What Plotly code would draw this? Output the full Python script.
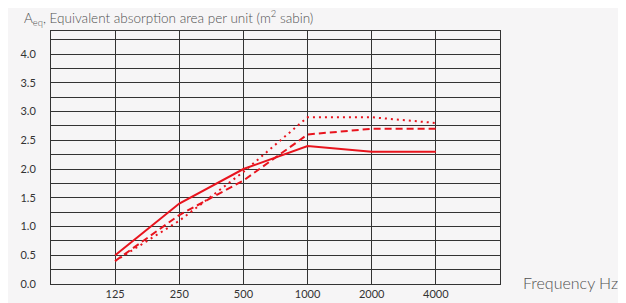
import plotly.graph_objects as go

freqs = ["125", "250", "500", "1000", "2000", "4000"]
solid_vals = [0.5, 1.4, 2.0, 2.4, 2.3, 2.3]
dashed_vals = [0.4, 1.2, 1.8, 2.6, 2.7, 2.7]
dotted_vals = [0.4, 1.1, 1.95, 2.9, 2.9, 2.8]
y_ticks = [0.0, 0.5, 1.0, 1.5, 2.0, 2.5, 3.0, 3.5, 4.0]

RED = "#e8141e"
xs = list(range(len(freqs)))

fig = go.Figure()
fig.add_trace(go.Scatter(x=xs, y=solid_vals, mode="lines",
                         line=dict(color=RED, width=2), showlegend=False))
fig.add_trace(go.Scatter(x=xs, y=dashed_vals, mode="lines",
                         line=dict(color=RED, width=2, dash="7px,4px"), showlegend=False))
fig.add_trace(go.Scatter(x=xs, y=dotted_vals, mode="lines",
                         line=dict(color=RED, width=2, dash="2px,4px"), showlegend=False))

# page body has an 8px default margin: compensate so the plot area lands at
# x 51..500, y 31..284 in the window
fig.update_layout(
    width=626, height=303,
    margin=dict(l=43, r=134, t=23, b=27),
    paper_bgcolor="#f6f5f6", plot_bgcolor="#f6f5f6",
    font=dict(family="Lato, Open Sans, sans-serif", color="#333333", size=11),
    xaxis=dict(range=[-1, 6], tickvals=xs, ticktext=freqs, showgrid=True,
               gridcolor="#333333", gridwidth=1, zeroline=False, automargin=False,
               showline=True, linecolor="#333333", linewidth=1, mirror=True,
               ticks="", tickfont=dict(size=11, color="#333333")),
    yaxis=dict(range=[0, 4.4], tickvals=y_ticks, tickformat=".1f", showgrid=True,
               gridcolor="#333333", gridwidth=1, zeroline=False, automargin=False,
               showline=True, linecolor="#333333", linewidth=1, mirror=True,
               ticks="", ticklabelstandoff=12,
               minor=dict(dtick=0.25, tick0=0, showgrid=True, gridcolor="#333333", gridwidth=1),
               tickfont=dict(size=11, color="#333333")),
    annotations=[
        dict(text="A<sub>eq</sub>, Equivalent absorption area per unit (m<sup>2</sup> sabin)",
             x=0, y=1, xref="paper", yref="paper", showarrow=False,
             xanchor="left", yanchor="middle", xshift=22 - 51, yshift=31 - 18,
             font=dict(size=13.5, color="#505050", weight=300)),
        dict(text="Frequency Hz", x=1.0, y=0.0, xref="paper", yref="paper",
             showarrow=False, xanchor="left", yanchor="middle", xshift=21, yshift=2,
             font=dict(size=16, color="#505050", weight=300)),
    ],
)

fig.write_html("out.html")
